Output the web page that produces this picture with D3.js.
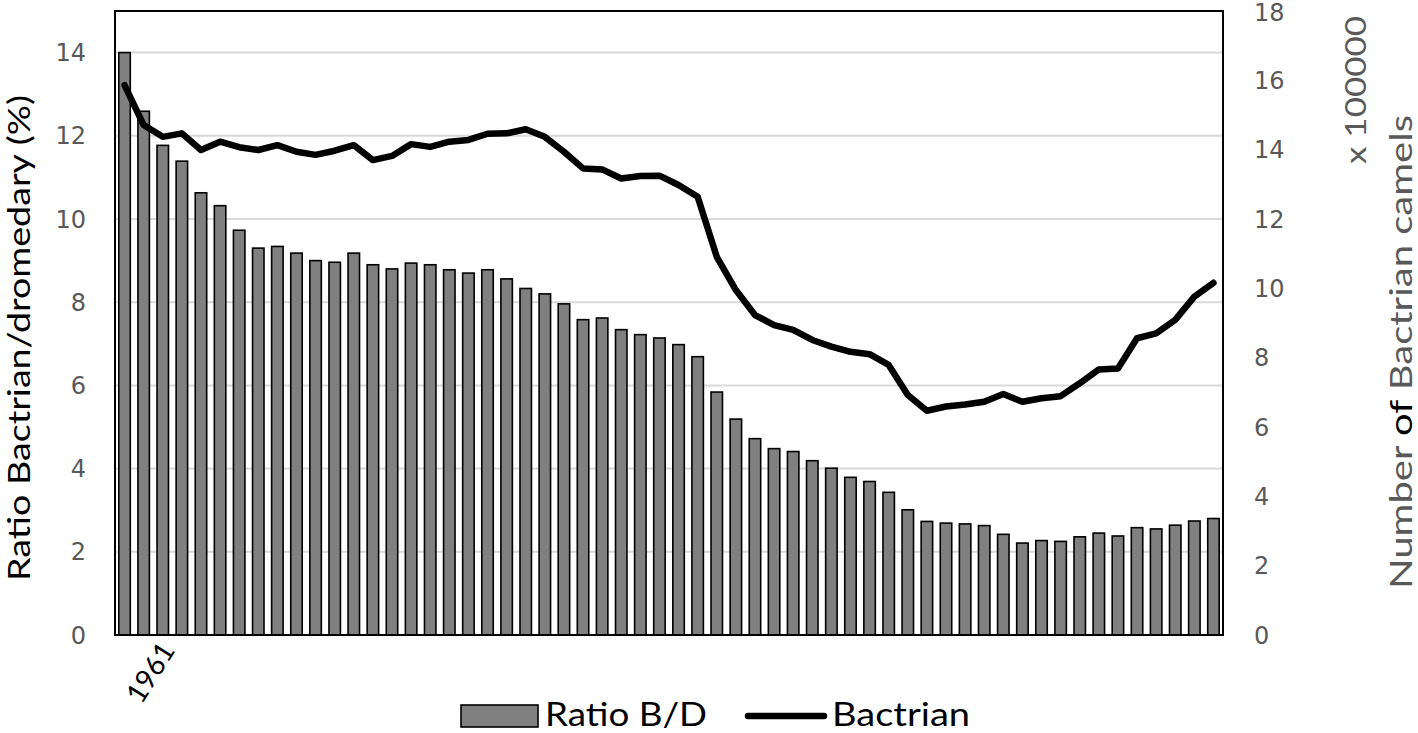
<!DOCTYPE html>
<html>
<head>
    <meta charset="utf-8">
    <title>Bactrian camels</title>
    <style>
        body { margin: 0; background: #fff; }
        .tick-label { font: 24px "DejaVu Sans", sans-serif; fill: #595959; }
        .title { font-family: Lato, "Open Sans", sans-serif; }
    </style>
</head>
<body>
<script src="https://cdnjs.cloudflare.com/ajax/libs/d3/7.8.5/d3.min.js"></script>
<script>
    // years on the category axis (1961 .. 2018)
    const years = d3.range(1961, 2019);

    // Ratio Bactrian/dromedary (%)
    const ratio = [14.0, 12.59, 11.77, 11.39, 10.63, 10.32, 9.73, 9.30, 9.34, 9.18,
        9.00, 8.96, 9.18, 8.90, 8.80, 8.94, 8.90, 8.78, 8.70, 8.78,
        8.56, 8.33, 8.20, 7.96, 7.58, 7.62, 7.34, 7.22, 7.14, 6.98,
        6.69, 5.84, 5.19, 4.72, 4.48, 4.41, 4.19, 4.01, 3.79, 3.69,
        3.43, 3.01, 2.73, 2.69, 2.67, 2.63, 2.42, 2.21, 2.27, 2.25,
        2.36, 2.45, 2.38, 2.58, 2.55, 2.64, 2.74, 2.80];

    // Number of Bactrian camels (x 100000)
    const bactrian = [15.86, 14.71, 14.37, 14.47, 13.99, 14.23, 14.07, 13.99, 14.13, 13.94,
        13.85, 13.97, 14.13, 13.70, 13.82, 14.16, 14.08, 14.23, 14.28, 14.46,
        14.47, 14.59, 14.37, 13.94, 13.46, 13.43, 13.17, 13.24, 13.25, 12.98,
        12.64, 10.91, 9.95, 9.23, 8.94, 8.80, 8.51, 8.32, 8.17, 8.10,
        7.79, 6.92, 6.47, 6.59, 6.65, 6.73, 6.95, 6.73, 6.83, 6.89,
        7.26, 7.66, 7.69, 8.56, 8.70, 9.09, 9.76, 10.16];

    const leftTicks = [0, 2, 4, 6, 8, 10, 12, 14];
    const rightTicks = [0, 2, 4, 6, 8, 10, 12, 14, 16, 18];
    const shownYears = [1961];

    const W = 1418, H = 733;
    const plot = {left: 115, right: 1223, top: 11, bottom: 635};

    const svg = d3.select("body").append("svg")
        .attr("width", W)
        .attr("height", H);

    const x = d3.scaleBand()
        .domain(years)
        .range([plot.left, plot.right])
        .paddingInner(0.4)
        .paddingOuter(0.2);

    const yL = d3.scaleLinear().domain([0, 15]).range([plot.bottom, plot.top]);
    const yR = d3.scaleLinear().domain([0, 18]).range([plot.bottom, plot.top]);

    // gridlines
    svg.append("g")
        .selectAll("line")
        .data(leftTicks.filter(d => d > 0))
        .join("line")
        .attr("x1", plot.left)
        .attr("x2", plot.right)
        .attr("y1", d => yL(d))
        .attr("y2", d => yL(d))
        .attr("stroke", "#d9d9d9")
        .attr("stroke-width", 2);

    // bars
    svg.append("g")
        .selectAll("rect")
        .data(ratio)
        .join("rect")
        .attr("x", (d, i) => x(years[i]))
        .attr("y", d => yL(d))
        .attr("width", x.bandwidth())
        .attr("height", d => yL(0) - yL(d))
        .attr("fill", "#808080")
        .attr("stroke", "#000")
        .attr("stroke-width", 1.6);

    // line
    const line = d3.line()
        .x((d, i) => x(years[i]) + x.bandwidth() / 2)
        .y(d => yR(d));

    svg.append("path")
        .datum(bactrian)
        .attr("d", line)
        .attr("fill", "none")
        .attr("stroke", "#000")
        .attr("stroke-width", 6.5)
        .attr("stroke-linejoin", "round")
        .attr("stroke-linecap", "round");

    // frame
    svg.append("rect")
        .attr("x", plot.left)
        .attr("y", plot.top)
        .attr("width", plot.right - plot.left)
        .attr("height", plot.bottom - plot.top)
        .attr("fill", "none")
        .attr("stroke", "#000")
        .attr("stroke-width", 2);

    // left axis labels
    svg.append("g")
        .selectAll("text")
        .data(leftTicks)
        .join("text")
        .attr("class", "tick-label")
        .attr("x", 86)
        .attr("y", d => yL(d))
        .attr("dy", "0.36em")
        .attr("text-anchor", "end")
        .text(d => d);

    // right axis labels
    svg.append("g")
        .selectAll("text")
        .data(rightTicks)
        .join("text")
        .attr("class", "tick-label")
        .attr("x", 1254)
        .attr("y", d => Math.max(yR(d), 12))
        .attr("dy", "0.36em")
        .attr("text-anchor", "start")
        .text(d => d);

    // category label
    svg.append("g")
        .selectAll("text")
        .data(shownYears)
        .join("text")
        .attr("transform", d => `translate(${x(d) + x.bandwidth() / 2 + 43},${plot.bottom + 10}) rotate(-58)`)
        .attr("text-anchor", "end")
        .attr("dy", "0.35em")
        .style("font", "28px Lato, sans-serif")
        .attr("fill", "#000")
        .text(d => d);

    // axis titles
    svg.append("text")
        .attr("class", "title")
        .attr("transform", `translate(30,338) rotate(-90)`)
        .attr("text-anchor", "middle")
        .attr("textLength", 486)
        .attr("lengthAdjust", "spacingAndGlyphs")
        .style("font-size", "31px")
        .attr("fill", "#000")
        .text("Ratio Bactrian/dromedary (%)");

    const rt = svg.append("text")
        .attr("class", "title")
        .attr("transform", `translate(1412,352) rotate(-90)`)
        .attr("text-anchor", "middle")
        .attr("textLength", 474)
        .attr("lengthAdjust", "spacingAndGlyphs")
        .style("font-size", "30px")
        .attr("fill", "#595959");
    rt.append("tspan").text("Number ");
    rt.append("tspan").attr("fill", "#000").text("of");
    rt.append("tspan").text(" Bactrian camels");

    svg.append("text")
        .attr("class", "title")
        .attr("transform", `translate(1366,90) rotate(-90)`)
        .attr("text-anchor", "middle")
        .attr("textLength", 148)
        .attr("lengthAdjust", "spacingAndGlyphs")
        .style("font-size", "29px")
        .attr("fill", "#595959")
        .text("x 100000");

    // legend
    const legend = svg.append("g").attr("transform", "translate(0,716)");
    legend.append("rect")
        .attr("x", 461)
        .attr("y", -11)
        .attr("width", 77)
        .attr("height", 22)
        .attr("fill", "#808080")
        .attr("stroke", "#000")
        .attr("stroke-width", 1.6);
    legend.append("text")
        .attr("class", "title")
        .attr("x", 545)
        .attr("y", 10)
        .attr("textLength", 162)
        .attr("lengthAdjust", "spacingAndGlyphs")
        .style("font-size", "32px")
        .text("Ratio B/D");
    legend.append("line")
        .attr("x1", 748)
        .attr("x2", 824)
        .attr("stroke", "#000")
        .attr("stroke-width", 6.5)
        .attr("stroke-linecap", "round");
    legend.append("text")
        .attr("class", "title")
        .attr("x", 832)
        .attr("y", 10)
        .attr("textLength", 138)
        .attr("lengthAdjust", "spacingAndGlyphs")
        .style("font-size", "32px")
        .text("Bactrian");
</script>
</body>
</html>
